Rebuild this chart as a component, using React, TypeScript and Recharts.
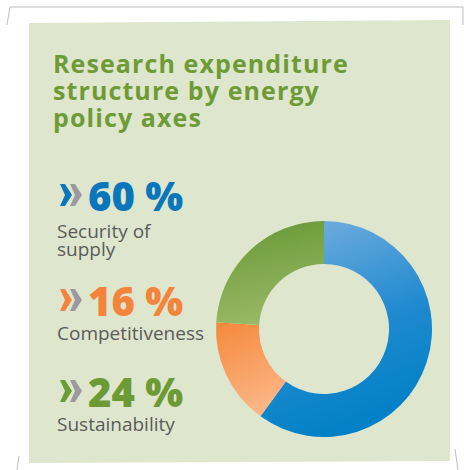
import React from "react";
import { PieChart, Pie, Cell } from "recharts";

const titleLines = ["Research expenditure", "structure by energy", "policy axes"];
const categories = ["Security of supply", "Competitiveness", "Sustainability"];
const values = [60, 16, 24];
const valueLabels = ["60 %", "16 %", "24 %"];
const labelLines = [["Security of", "supply"], ["Competitiveness"], ["Sustainability"]];
const colors = ["#0a76bb", "#f3843c", "#6c9a35"];
const gradIds = ["gBlue", "gOrange", "gGreen"];

const data = categories.map((name, i) => ({ name, value: values[i] }));

const FONT = "'Open Sans', 'Noto Sans', sans-serif";

const numBaselines = [211, 316, 407];
const labelBaselines = [[238, 255.5], [340], [431]];

function Chevrons({ y, color }: { y: number; color: string }) {
  const h = 22;
  const pts = (x: number) =>
    `${x},${y} ${x + 5},${y} ${x + 12},${y + h / 2} ${x + 5},${y + h} ${x},${y + h} ${x + 5},${y + h / 2}`;
  return (
    <g>
      <polygon points={pts(60)} fill={color} />
      <polygon points={pts(70)} fill="#9c9aa1" />
    </g>
  );
}

export default function App() {
  return (
    <div style={{ position: "absolute", left: 0, top: 0, width: 464, height: 470, background: "#fff" }}>
      <svg width={464} height={470} style={{ position: "absolute", left: 0, top: 0 }}>
        <polyline points="7,25 10,7 463,7 463,25" fill="none" stroke="#bdbdbd" strokeWidth={1} />
        <line x1={17} y1={470} x2={19} y2={456} stroke="#bdbdbd" strokeWidth={1} />
        <line x1={455} y1={449} x2={458} y2={470} stroke="#bdbdbd" strokeWidth={1} />
        <polygon points="29,23 450,20 450,461 29,463" fill="#dfe6ce" />
        {titleLines.map((t, i) => (
          <text key={t} x={53} y={73 + i * 27} fill="#6e9b35" fontFamily={FONT} fontWeight={700} fontSize={25} letterSpacing={1.1}>
            {t}
          </text>
        ))}
        {valueLabels.map((v, i) => (
          <g key={v}>
            <Chevrons y={numBaselines[i] - 27} color={colors[i]} />
            <text x={88} y={numBaselines[i]} fill={colors[i]} fontFamily={FONT} fontWeight={800} fontSize={40}>
              {v}
            </text>
            {labelLines[i].map((l, j) => (
              <text key={l} x={57} y={labelBaselines[i][j]} fill="#5b5b5b" fontFamily={FONT} fontSize={19}>
                {l}
              </text>
            ))}
          </g>
        ))}
      </svg>
      <div style={{ position: "absolute", left: 0, top: 0 }}>
        <PieChart width={464} height={470} margin={{ top: 0, right: 0, bottom: 0, left: 0 }}>
          <defs>
            <linearGradient id="gBlue" x1="0.2" y1="0" x2="0.5" y2="1">
              <stop offset="0%" stopColor="#74aede" />
              <stop offset="55%" stopColor="#1f8ad0" />
              <stop offset="100%" stopColor="#0080c5" />
            </linearGradient>
            <linearGradient id="gOrange" x1="0" y1="0" x2="0.3" y2="1">
              <stop offset="0%" stopColor="#f5883a" />
              <stop offset="100%" stopColor="#fbb584" />
            </linearGradient>
            <linearGradient id="gGreen" x1="0.4" y1="0" x2="0.6" y2="1">
              <stop offset="0%" stopColor="#6a9a38" />
              <stop offset="100%" stopColor="#9cba68" />
            </linearGradient>
          </defs>
          <Pie
            data={data}
            dataKey="value"
            nameKey="name"
            cx={324}
            cy={329}
            innerRadius={65}
            outerRadius={108}
            startAngle={90}
            endAngle={-270}
            stroke="none"
            isAnimationActive={false}
          >
            {data.map((d, i) => (
              <Cell key={d.name} fill={`url(#${gradIds[i]})`} />
            ))}
          </Pie>
        </PieChart>
      </div>
    </div>
  );
}
